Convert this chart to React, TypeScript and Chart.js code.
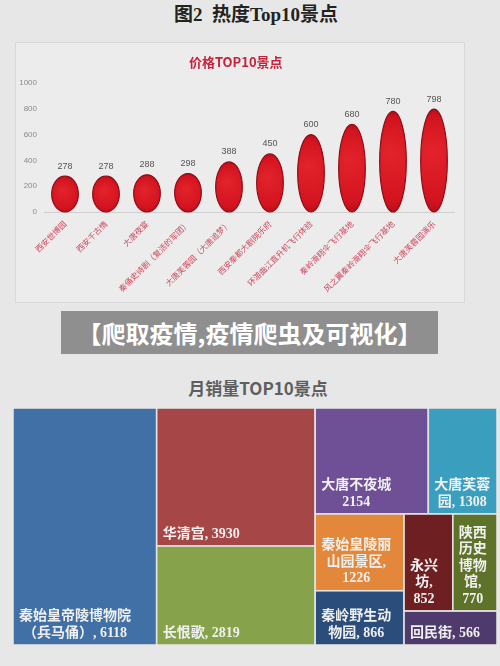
import React, { useEffect, useRef } from "react";
import { Chart, registerables } from "chart.js";

Chart.register(...registerables);

// ---------- Data: price chart ----------
const priceCategories = [
  "西安世博园",
  "西安千古情",
  "大唐夜宴",
  "秦俑史诗剧（复活的军团）",
  "大唐芙蓉园（大唐追梦）",
  "西安秦都大剧院乐府",
  "环游曲江直升机飞行体验",
  "秦岭滑翔伞飞行基地",
  "风之翼秦岭滑翔伞飞行基地",
  "大唐芙蓉园演乐",
];
const priceValues = [278, 278, 288, 298, 388, 450, 600, 680, 780, 798];
const priceTicks = [0, 200, 400, 600, 800, 1000];

// ---------- Data: monthly sales treemap ----------
const salesNames = [
  "秦始皇帝陵博物院\n（兵马俑）",
  "华清宫",
  "长恨歌",
  "大唐不夜城",
  "大唐芙蓉\n园",
  "秦始皇陵丽\n山园景区",
  "秦岭野生动\n物园",
  "永兴\n坊",
  "陕西\n历史\n博物\n馆",
  "回民街",
];
const salesValues = [6118, 3930, 2819, 2154, 1308, 1226, 866, 852, 770, 566];
const salesSeparators = [", ", ", ", ", ", "\n", ", ", ",\n", ", ", ",\n", ",\n", ", "];
const salesColors = [
  "#4170a6",
  "#a64646",
  "#86a34b",
  "#6f5096",
  "#3a9fbf",
  "#e3883a",
  "#2b4d7c",
  "#6d1f22",
  "#5e7229",
  "#4e3a6c",
];

type LayoutNode = number | { dir: "h" | "v"; children: LayoutNode[] };
// slice-and-dice structure of the treemap (areas come from salesValues)
const salesLayout: LayoutNode = {
  dir: "h",
  children: [
    0,
    { dir: "v", children: [1, 2] },
    {
      dir: "v",
      children: [
        { dir: "h", children: [3, 4] },
        {
          dir: "h",
          children: [
            { dir: "v", children: [5, 6] },
            { dir: "v", children: [{ dir: "h", children: [7, 8] }, 9] },
          ],
        },
      ],
    },
  ],
};

function nodeSum(n: LayoutNode): number {
  if (typeof n === "number") return salesValues[n];
  return n.children.reduce((a, c) => a + nodeSum(c), 0);
}

type Rect = { x0: number; y0: number; x1: number; y1: number };
function layoutNode(n: LayoutNode, x0: number, y0: number, x1: number, y1: number, out: Rect[]) {
  if (typeof n === "number") {
    out[n] = { x0, y0, x1, y1 };
    return;
  }
  const total = nodeSum(n);
  let acc = 0;
  for (const c of n.children) {
    const s = nodeSum(c);
    const a = acc / total;
    const b = (acc + s) / total;
    acc += s;
    if (n.dir === "h") layoutNode(c, x0 + (x1 - x0) * a, y0, x0 + (x1 - x0) * b, y1, out);
    else layoutNode(c, x0, y0 + (y1 - y0) * a, x1, y0 + (y1 - y0) * b, out);
  }
}

const ellipsePlugin = {
  id: "ellipseBars",
  afterDatasetsDraw(chart: any) {
    const ctx = chart.ctx as CanvasRenderingContext2D;
    const meta = chart.getDatasetMeta(0);
    meta.data.forEach((bar: any, i: number) => {
      const { x, y, base, width } = bar.getProps(["x", "y", "base", "width"], true);
      const cy = (y + base) / 2;
      const rx = width / 2;
      const ry = Math.abs(base - y) / 2;
      ctx.save();
      const grad = ctx.createRadialGradient(x - rx * 0.2, cy - ry * 0.2, 1, x, cy, Math.max(rx, ry));
      grad.addColorStop(0, "#e2232b");
      grad.addColorStop(0.8, "#d3141f");
      grad.addColorStop(1, "#b80f1a");
      ctx.beginPath();
      ctx.ellipse(x, cy, rx, ry, 0, 0, Math.PI * 2);
      ctx.fillStyle = grad;
      ctx.fill();
      ctx.lineWidth = 1.2;
      ctx.strokeStyle = "#8e0c16";
      ctx.stroke();
      ctx.font = '9px "Liberation Sans", sans-serif';
      ctx.fillStyle = "#555";
      ctx.textAlign = "center";
      ctx.textBaseline = "middle";
      ctx.fillText(String(priceValues[i]), x, y - 10);
      ctx.restore();
    });
  },
};

const treemapPlugin = {
  id: "treemapCells",
  afterDraw(chart: any) {
    const ctx = chart.ctx as CanvasRenderingContext2D;
    const xs = chart.scales.x;
    const ys = chart.scales.y;
    const rects: Rect[] = [];
    layoutNode(salesLayout, 0, 0, 1, 1, rects);
    ctx.save();
    rects.forEach((r, i) => {
      const px0 = xs.getPixelForValue(r.x0);
      const px1 = xs.getPixelForValue(r.x1);
      const py0 = ys.getPixelForValue(r.y0);
      const py1 = ys.getPixelForValue(r.y1);
      const left = Math.min(px0, px1);
      const top = Math.min(py0, py1);
      const w = Math.abs(px1 - px0);
      const h = Math.abs(py1 - py0);
      ctx.fillStyle = salesColors[i];
      ctx.fillRect(left, top, w, h);
      ctx.lineWidth = 1.6;
      ctx.strokeStyle = "#e2e2e2";
      ctx.strokeRect(left, top, w, h);
    });
    rects.forEach((r, i) => {
      const px0 = xs.getPixelForValue(r.x0);
      const py1 = ys.getPixelForValue(r.y1);
      const text = salesNames[i] + salesSeparators[i] + salesValues[i];
      const lines = text.split("\n");
      ctx.font = 'bold 14px "Liberation Serif", "Noto Sans CJK SC", sans-serif';
      const maxW = Math.max(...lines.map((l) => ctx.measureText(l).width));
      const blockLeft = px0 + 6;
      const lh = 16.5;
      ctx.fillStyle = "#f0f0f0";
      ctx.textAlign = "center";
      ctx.textBaseline = "middle";
      lines.forEach((l, k) => {
        const cy = py1 - 12 - (lines.length - 1 - k) * lh;
        ctx.fillText(l, blockLeft + maxW / 2, cy);
      });
    });
    ctx.restore();
  },
};

export default function App() {
  const priceRef = useRef<HTMLCanvasElement>(null);
  const salesRef = useRef<HTMLCanvasElement>(null);

  useEffect(() => {
    const priceChart = new Chart(priceRef.current as HTMLCanvasElement, {
      type: "bar",
      data: {
        labels: priceCategories,
        datasets: [
          {
            data: priceValues,
            backgroundColor: "rgba(0,0,0,0)",
            borderWidth: 0,
            barPercentage: 0.65,
            categoryPercentage: 1,
          },
        ],
      },
      options: {
        responsive: false,
        animation: false,
        layout: { padding: { left: 0, right: 5.5, top: 0, bottom: 0 } },
        plugins: {
          legend: { display: false },
          tooltip: { enabled: false },
          title: {
            display: true,
            text: "价格TOP10景点",
            color: "#c8213a",
            font: { size: 13, weight: "bold", family: '"Noto Sans CJK SC", sans-serif' },
            padding: { top: 12.2, bottom: 13.2 },
          },
        },
        scales: {
          x: {
            grid: { display: false, drawTicks: false },
            border: { display: true, color: "#cfcfcf" },
            ticks: {
              autoSkip: false,
              minRotation: 45,
              maxRotation: 45,
              padding: 7,
              color: "#d0465c",
              font: { size: 8, family: '"Noto Sans CJK SC", sans-serif' },
            },
            afterFit: (s: any) => {
              s.height = 91;
            },
          },
          y: {
            min: 0,
            max: 1000,
            grid: { display: false, drawTicks: false },
            border: { display: false },
            ticks: {
              padding: 7.5,
              color: "#8a8a8a",
              font: { size: 8, family: '"Liberation Sans", sans-serif' },
              callback: (v: any) => String(v),
            },
            afterBuildTicks: (s: any) => {
              s.ticks = priceTicks.map((v) => ({ value: v }));
            },
            afterFit: (s: any) => {
              s.width = 27.5;
            },
          },
        },
      } as any,
      plugins: [ellipsePlugin],
    });

    const salesChart = new Chart(salesRef.current as HTMLCanvasElement, {
      type: "scatter",
      data: { datasets: [{ data: [] }] },
      options: {
        responsive: false,
        animation: false,
        layout: { padding: 0 },
        plugins: { legend: { display: false }, tooltip: { enabled: false } },
        scales: {
          x: { type: "linear", min: 0, max: 1, display: false },
          y: { type: "linear", min: 0, max: 1, reverse: true, display: false },
        },
      } as any,
      plugins: [treemapPlugin],
    });

    return () => {
      priceChart.destroy();
      salesChart.destroy();
    };
  }, []);

  return (
    <div
      style={{
        position: "fixed",
        left: 0,
        top: 0,
        width: 500,
        height: 666,
        background: "#e7e7e7",
        overflow: "hidden",
      }}
    >
      <div
        style={{
          position: "absolute",
          left: 12,
          width: 488,
          top: 5,
          textAlign: "center",
          fontFamily: '"Liberation Serif", "Noto Sans CJK SC", serif',
          fontWeight: "bold",
          fontSize: 19,
          lineHeight: "20px",
          color: "#222",
          whiteSpace: "pre",
        }}
      >
        {"图2  热度Top10景点"}
      </div>
      <div
        style={{
          position: "absolute",
          left: 15,
          top: 42,
          width: 450,
          height: 261,
          background: "#ececec",
          border: "1px solid #d9d9d9",
          boxSizing: "border-box",
        }}
      />
      <canvas
        ref={priceRef}
        width={443}
        height={261}
        style={{ position: "absolute", left: 17, top: 42 }}
      />
      <div
        style={{
          position: "absolute",
          left: 61,
          top: 311,
          width: 377,
          height: 43,
          background: "#8f8f8f",
          color: "#ffffff",
          display: "flex",
          alignItems: "center",
          justifyContent: "center",
          fontFamily: '"Noto Sans CJK SC", sans-serif',
          fontWeight: "bold",
          fontSize: 24,
          whiteSpace: "pre",
        }}
      >
        {"【爬取疫情,疫情爬虫及可视化】"}
      </div>
      <div
        style={{
          position: "absolute",
          left: 16,
          width: 484,
          top: 377,
          textAlign: "center",
          fontFamily: '"Noto Sans CJK SC", sans-serif',
          fontWeight: "bold",
          fontSize: 17,
          lineHeight: "22px",
          color: "#5e5e5e",
        }}
      >
        月销量TOP10景点
      </div>
      <canvas
        ref={salesRef}
        width={484}
        height={237}
        style={{ position: "absolute", left: 13, top: 408 }}
      />
    </div>
  );
}
